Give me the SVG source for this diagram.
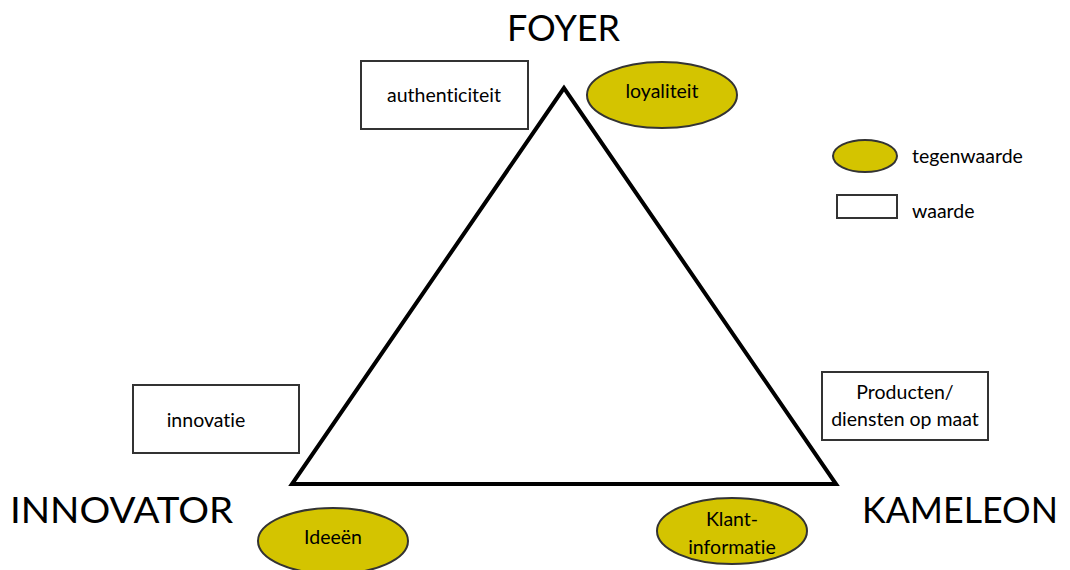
<svg xmlns="http://www.w3.org/2000/svg" width="1070" height="570" viewBox="0 0 1070 570">
<style>
text{font-family:Lato,"Open Sans","Liberation Sans",sans-serif;fill:#000;font-variant-ligatures:none}
.box{fill:#fff;stroke:#333;stroke-width:2}
.oval{fill:#d4c400;stroke:#333;stroke-width:2}
.t{font-size:19.5px;text-anchor:middle}
.s{font-size:19.5px}
.big{font-size:37px}
</style>
<rect width="1070" height="570" fill="#fff"/>
<g id="connectors">
<polygon points="564,88 292,484 836,484" fill="none" stroke="#000" stroke-width="4" stroke-linejoin="miter"/>
</g>
<g id="foyer"><text class="big" x="507" y="41" textLength="113" lengthAdjust="spacingAndGlyphs">FOYER</text></g>
<g id="innovator"><text class="big" x="10" y="523" textLength="223" lengthAdjust="spacingAndGlyphs">INNOVATOR</text></g>
<g id="kameleon"><text class="big" x="862" y="523" textLength="196" lengthAdjust="spacingAndGlyphs">KAMELEON</text></g>
<g id="authenticiteit"><rect class="box" x="361" y="61" width="167" height="68"/><text class="t" x="444" y="102">authenticiteit</text></g>
<g id="loyaliteit"><ellipse class="oval" cx="662" cy="95" rx="75" ry="33"/><text class="t" x="662" y="98">loyaliteit</text></g>
<g id="innovatie"><rect class="box" x="133" y="385" width="166" height="68"/><text class="t" x="206" y="427">innovatie</text></g>
<g id="producten"><rect class="box" x="822" y="372" width="166" height="68"/><text class="t" x="905" y="399">Producten/</text><text class="t" x="905" y="426">diensten op maat</text></g>
<g id="ideeen"><ellipse class="oval" cx="333" cy="541" rx="75" ry="33"/><text class="t" x="333" y="544">Ideeën</text></g>
<g id="klantinformatie"><ellipse class="oval" cx="732" cy="531" rx="75" ry="33"/><text class="t" x="732" y="526">Klant-</text><text class="t" x="732" y="554">informatie</text></g>
<g id="legend-tegenwaarde"><ellipse class="oval" cx="865" cy="156" rx="32" ry="16"/><text class="s" x="912" y="163">tegenwaarde</text></g>
<g id="legend-waarde"><rect class="box" x="837" y="195" width="60" height="23"/><text class="s" x="912" y="218">waarde</text></g>
</svg>
